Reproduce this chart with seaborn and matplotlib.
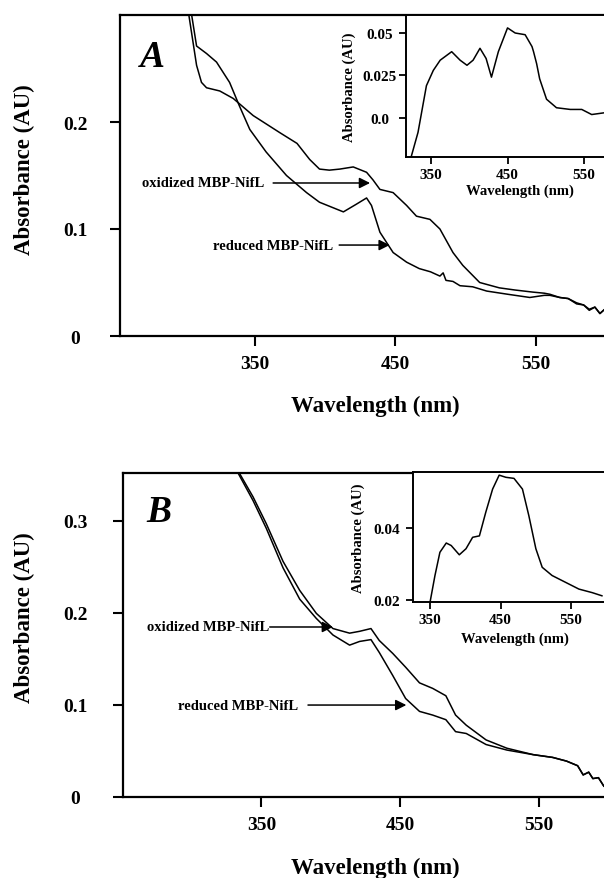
import pandas as pd
import numpy as np
import matplotlib
matplotlib.use('Agg')
import matplotlib.pyplot as plt
import seaborn as sns

# 一、数据
# A 主图
a_ox_wl = [303, 308.5, 312, 315.6, 325, 334.6, 348.8, 367.8, 380, 389, 396, 403, 410.5, 420, 429.5, 434,
           439, 448.4, 458, 465, 474.6, 481.7, 491, 498, 510, 524, 535, 548, 556, 560, 567, 573, 579, 584,
           588, 592, 595.6, 599]
a_ox_abs = [0.300, 0.253, 0.237, 0.232, 0.229, 0.222, 0.206, 0.190, 0.180, 0.165, 0.156, 0.155, 0.156, 0.158,
            0.153, 0.146, 0.137, 0.134, 0.122, 0.112, 0.109, 0.100, 0.078, 0.066, 0.050, 0.045, 0.043, 0.041,
            0.040, 0.039, 0.036, 0.035, 0.031, 0.029, 0.025, 0.027, 0.021, 0.025]
a_red_wl = [305, 308.5, 315.6, 322.7, 332, 339, 346.4, 358, 372.5, 386.8, 396, 413, 422, 429.5, 433, 439,
            448.4, 458, 467, 475, 481.7, 484, 486, 491, 496, 505, 515, 530, 545.7, 556, 560, 567, 573, 579,
            584, 588, 592, 595.6, 599]
a_red_abs = [0.300, 0.271, 0.264, 0.256, 0.237, 0.215, 0.193, 0.172, 0.150, 0.134, 0.125, 0.116, 0.123,
             0.129, 0.122, 0.097, 0.078, 0.069, 0.063, 0.060, 0.056, 0.059, 0.052, 0.051, 0.047, 0.046,
             0.042, 0.039, 0.036, 0.038, 0.038, 0.036, 0.035, 0.030, 0.029, 0.024, 0.027, 0.021, 0.025]
# A 插图 (差谱)
a_ins_wl = [324, 333, 344, 353, 362, 377, 388, 397, 405, 414, 422, 429, 438, 450, 460, 473, 482, 484, 488,
            492, 501, 514, 532, 547, 560, 576]
a_ins_abs = [-0.023, -0.0085, 0.019, 0.028, 0.034, 0.039, 0.034, 0.031, 0.034, 0.041, 0.035, 0.024, 0.039,
             0.053, 0.050, 0.049, 0.042, 0.039, 0.032, 0.023, 0.011, 0.006, 0.005, 0.005, 0.002, 0.003]

# B 主图
b_ox_wl = [331, 344, 353.5, 365.6, 377.6, 389.6, 401.6, 413.6, 420.8, 429, 435, 444.7, 454, 464, 473.5,
           483, 490, 497.7, 512, 527, 546, 560, 570, 578, 582, 586, 589, 593, 597]
b_ox_abs = [0.360, 0.326, 0.297, 0.256, 0.2245, 0.1995, 0.183, 0.178, 0.180, 0.183, 0.170, 0.156, 0.141,
            0.124, 0.118, 0.110, 0.089, 0.078, 0.062, 0.053, 0.046, 0.043, 0.039, 0.034, 0.024, 0.027,
            0.020, 0.021, 0.0115]
b_red_wl = [331, 344, 353.5, 365.6, 377.6, 389.6, 401.6, 413.6, 420.8, 429, 435, 444.7, 454, 464, 473.5,
            483, 490, 497.7, 512, 527, 546, 560, 570, 578, 582, 586, 589, 593, 597]
b_red_abs = [0.358, 0.322, 0.292, 0.249, 0.215, 0.194, 0.176, 0.165, 0.169, 0.171, 0.157, 0.132, 0.107,
             0.093, 0.089, 0.084, 0.071, 0.069, 0.057, 0.051, 0.046, 0.043, 0.039, 0.034, 0.024, 0.027,
             0.020, 0.021, 0.0115]
# B 插图
b_ins_wl = [350, 357, 364, 373, 380, 391.5, 401, 410.4, 420, 429, 438.7, 448, 457.5, 469, 481, 490, 500,
            509, 523, 542, 561, 580, 594]
b_ins_abs = [0.0193, 0.0268, 0.0333, 0.0359, 0.0352, 0.0326, 0.0343, 0.0375, 0.0379, 0.0445, 0.0510,
             0.0549, 0.0543, 0.0540, 0.0510, 0.0436, 0.0343, 0.0291, 0.0268, 0.0249, 0.0230, 0.0220, 0.0211]

# 二、样式
sns.set_style('ticks')
plt.rcParams['font.family'] = ['Liberation Serif', 'DejaVu Serif']
plt.rcParams['font.weight'] = 'bold'
plt.rcParams['axes.labelweight'] = 'bold'
plt.rcParams['text.color'] = 'black'
plt.rcParams['axes.labelcolor'] = 'black'
plt.rcParams['xtick.color'] = 'black'
plt.rcParams['ytick.color'] = 'black'

W, H = 604, 879
fig = plt.figure(figsize=(W / 100, H / 100), dpi=100)


def px_axes(left, right, top, bottom):
    # 像素 -> 图坐标
    return fig.add_axes([left / W, 1 - bottom / H, (right - left) / W, (bottom - top) / H])


def style_main(ax, ypad):
    for s in ['left', 'bottom', 'top']:
        ax.spines[s].set_linewidth(1.6)
        ax.spines[s].set_color('black')
    ax.spines['right'].set_visible(False)
    ax.tick_params(direction='out', length=7, width=1.5, labelsize=14, colors='black')
    ax.tick_params(axis='y', pad=ypad)
    ax.tick_params(axis='x', pad=7)
    for t in ax.get_yticklabels():
        t.set_horizontalalignment('center')


def style_inset(ax, ypad):
    ax.set_facecolor('white')
    for s in ['left', 'bottom', 'top']:
        ax.spines[s].set_linewidth(1.4)
        ax.spines[s].set_color('black')
    ax.spines['right'].set_visible(False)
    ax.tick_params(direction='out', length=5, width=1.3, labelsize=11, colors='black')
    ax.tick_params(axis='y', pad=ypad)
    ax.tick_params(axis='x', pad=3)
    for t in ax.get_yticklabels():
        t.set_horizontalalignment('center')


def arrow(ax, text, tail, head, y, text_x):
    ax.text(text_x, y, text, ha='right', va='center', fontsize=10.5, fontweight='bold')
    ax.annotate('', xy=(head, y), xytext=(tail, y),
                arrowprops=dict(arrowstyle='-|>', color='black', lw=1.1, mutation_scale=16,
                                shrinkA=0, shrinkB=0))


line_kw = dict(color='black', linewidth=1.1, estimator=None, sort=False)

# 三、A 图
axA = px_axes(120, 630, 16, 337)
sns.lineplot(x=a_ox_wl, y=a_ox_abs, ax=axA, **line_kw)
sns.lineplot(x=a_red_wl, y=a_red_abs, ax=axA, **line_kw)
axA.set_xlim(254, 617)
axA.set_ylim(0, 0.3)
axA.set_xticks([350, 450, 550])
axA.set_yticks([0, 0.1, 0.2])
axA.set_yticklabels(['0', '0.1', '0.2'])
style_main(axA, 25)
axA.set_xlabel('Wavelength (nm)', fontsize=16.5, labelpad=16)
axA.set_ylabel('Absorbance (AU)', fontsize=16.5)
axA.yaxis.label.set_va('center')
axA.yaxis.set_label_coords((24 - 120) / 510, (337 - 170) / 321)
axA.text(0.063, 0.872, 'A', transform=axA.transAxes, fontsize=27, fontweight='bold',
         fontstyle='italic', ha='center', va='center')
arrow(axA, 'oxidized MBP-NifL', 363, 432, 0.143, 357)
arrow(axA, 'reduced MBP-NifL', 410, 446, 0.085, 406)

axAi = px_axes(406, 634, 16, 158)
sns.lineplot(x=a_ins_wl, y=a_ins_abs, ax=axAi, **line_kw)
axAi.set_xlim(317.3, 615.3)
axAi.set_ylim(-0.023, 0.0606)
axAi.set_xticks([350, 450, 550])
axAi.set_yticks([0.0, 0.025, 0.05])
axAi.set_yticklabels(['0.0', '0.025', '0.05'])
style_inset(axAi, 14)
axAi.set_xlabel('Wavelength (nm)', fontsize=10.5, labelpad=2)
axAi.set_ylabel('Absorbance (AU)', fontsize=10.5, labelpad=5)

# 四、B 图
axB = px_axes(122.7, 627, 474, 798)
sns.lineplot(x=b_ox_wl, y=b_ox_abs, ax=axB, **line_kw)
sns.lineplot(x=b_red_wl, y=b_red_abs, ax=axB, **line_kw)
axB.set_xlim(250, 613.6)
axB.set_ylim(0, 0.352)
axB.set_xticks([350, 450, 550])
axB.set_yticks([0, 0.1, 0.2, 0.3])
axB.set_yticklabels(['0', '0.1', '0.2', '0.3'])
style_main(axB, 27)
axB.set_xlabel('Wavelength (nm)', fontsize=16.5, labelpad=17)
axB.set_ylabel('Absorbance (AU)', fontsize=16.5)
axB.yaxis.label.set_va('center')
axB.yaxis.set_label_coords((24 - 122.7) / 504.3, (798 - 618) / 324)
axB.text(0.072, 0.88, 'B', transform=axB.transAxes, fontsize=27, fontweight='bold',
         fontstyle='italic', ha='center', va='center')
arrow(axB, 'oxidized MBP-NifL', 356, 401.6, 0.1847, 356)
arrow(axB, 'reduced MBP-NifL', 383.6, 454.5, 0.0999, 376.4)

axBi = px_axes(413.3, 617, 473.3, 603.3)
sns.lineplot(x=b_ins_wl, y=b_ins_abs, ax=axBi, **line_kw)
axBi.set_xlim(326.3, 615)
axBi.set_ylim(0.0193, 0.0557)
axBi.set_xticks([350, 450, 550])
axBi.set_yticks([0.02, 0.04])
axBi.set_yticklabels(['0.02', '0.04'])
style_inset(axBi, 14)
axBi.set_xlabel('Wavelength (nm)', fontsize=10.5, labelpad=4)
axBi.set_ylabel('Absorbance (AU)', fontsize=10.5, labelpad=6)

fig.savefig('out.png', dpi=100)
